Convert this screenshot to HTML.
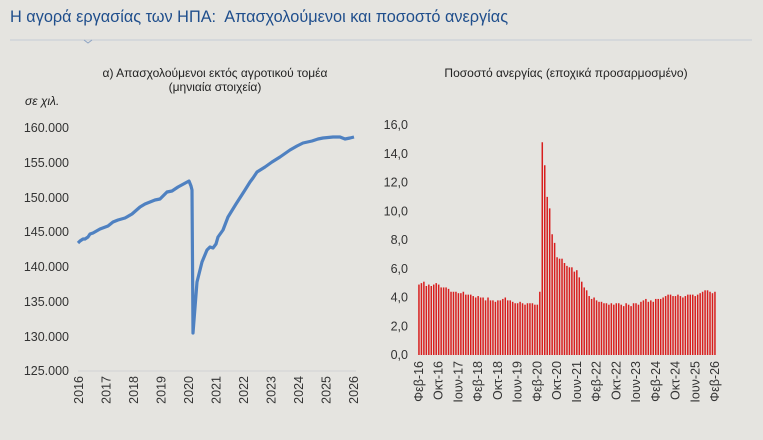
<!DOCTYPE html>
<html><head><meta charset="utf-8"><style>
html,body{margin:0;padding:0;background:#e5e4e0;}
svg{display:block;font-family:"Liberation Sans",sans-serif;}
</style></head><body>
<svg id="s" width="763" height="440" viewBox="0 0 763 440" xmlns="http://www.w3.org/2000/svg">
<rect width="763" height="440" fill="#e5e4e0"/>
<text x="10" y="22" font-size="16.3" fill="#1f4e8c">Η αγορά εργασίας των ΗΠΑ:&#160; Απασχολούμενοι και ποσοστό ανεργίας</text>
<line x1="10" y1="40" x2="752" y2="40" stroke="#c5ccd6" stroke-width="1"/>
<polyline points="84,40 88,43 92,40" fill="none" stroke="#8ea4c4" stroke-width="1"/>
<text x="215" y="77" font-size="12" text-anchor="middle" fill="#222">α) Απασχολούμενοι εκτός αγροτικού τομέα</text>
<text x="215" y="91" font-size="12" text-anchor="middle" fill="#222">(μηνιαία στοιχεία)</text>
<text x="25" y="105" font-size="12" font-style="italic" fill="#222">σε χιλ.</text>
<text x="566" y="77" font-size="12" text-anchor="middle" fill="#222">Ποσοστό ανεργίας (εποχικά προσαρμοσμένο)</text>
<g font-size="12.5" fill="#333" text-anchor="end">
<text x="69" y="132">160.000</text><text x="69" y="167">155.000</text><text x="69" y="202">150.000</text>
<text x="69" y="236">145.000</text><text x="69" y="271">140.000</text><text x="69" y="306">135.000</text>
<text x="69" y="341">130.000</text><text x="69" y="375">125.000</text>
</g>
<line x1="78" y1="371" x2="356" y2="371" stroke="#d8d8d8" stroke-width="1.5"/>
<polyline fill="none" stroke="#4f81c1" stroke-width="3.2" stroke-linejoin="round" points="78,243 80,241 83,239 85,239 88,237 90,234 93,233 100,229 108,226 113,222 118,220 125,218 132,214 140,207 145,204 150,202 155,200 160,199 167,192 172,191 178,187 189,181 191,186 192,190 193,333 197,282 202,262 207,250 210,247 213,248 216,244 218,237 223,230 228,217 236,204 245,190 250,182 253,178 257,172 265,167 272,162 280,157 290,150 297,146 301,144 303,143 312,141 318,139 323,138 333,137 340,137 345,139 350,138 354,137"/>
<g id="lx" font-size="12.5" fill="#333"></g>
<g id="ry" font-size="12.5" fill="#333" text-anchor="end"></g>
<g id="bars" fill="#d81e1e"></g>
<g id="rx" font-size="12.5" fill="#333"></g>
</svg>
<script>
var NS="http://www.w3.org/2000/svg";
function t(g,x,y,s,rot){var e=document.createElementNS(NS,"text");e.setAttribute("x",x);e.setAttribute("y",y);if(rot){e.setAttribute("transform","rotate(-90 "+x+" "+y+")");e.setAttribute("text-anchor","end");}e.textContent=s;document.getElementById(g).appendChild(e);}
for(var i=0;i<=10;i++){t("lx",79+i*27.5+4,376,String(2016+i),true);}
for(var v=0;v<=16;v+=2){t("ry",408,355-v*14.375+4,v.toFixed(1).replace(".",","));}
var d=[4.9,5.0,5.1,4.8,4.9,4.8,4.9,5.0,4.9,4.7,4.7,
4.7,4.6,4.4,4.4,4.4,4.3,4.3,4.4,4.2,4.2,4.2,4.1,
4.0,4.1,4.0,4.0,3.8,4.0,3.8,3.8,3.7,3.8,3.8,3.9,
4.0,3.8,3.8,3.7,3.6,3.6,3.7,3.6,3.5,3.6,3.6,3.6,
3.5,3.5,4.4,14.8,13.2,11.0,10.2,8.4,7.8,6.8,6.7,6.7,
6.4,6.2,6.1,6.1,5.8,5.9,5.4,5.1,4.7,4.5,4.1,3.9,
4.0,3.8,3.7,3.7,3.6,3.6,3.5,3.6,3.5,3.6,3.6,3.5,
3.4,3.6,3.5,3.4,3.6,3.6,3.5,3.7,3.8,3.9,3.7,3.8,
3.7,3.9,3.9,3.9,4.0,4.1,4.2,4.2,4.1,4.1,4.2,4.1,
4.0,4.1,4.2,4.2,4.2,4.1,4.2,4.3,4.4,4.5,4.5,4.4,
4.3,4.4];
var b=document.getElementById("bars"),step=(715-419)/120;
d.forEach(function(v,i){var r=document.createElementNS(NS,"rect");var h=v*14.375;r.setAttribute("x",419+i*step-0.8);r.setAttribute("y",355-h);r.setAttribute("width",1.5);r.setAttribute("height",h);b.appendChild(r);});
var L=["Φεβ-16","Οκτ-16","Ιουν-17","Φεβ-18","Οκτ-18","Ιουν-19","Φεβ-20","Οκτ-20","Ιουν-21","Φεβ-22","Οκτ-22","Ιουν-23","Φεβ-24","Οκτ-24","Ιουν-25","Φεβ-26"];
L.forEach(function(s,k){t("rx",419+k*8*step+4,361,s,true);});
</script>
</body></html>
